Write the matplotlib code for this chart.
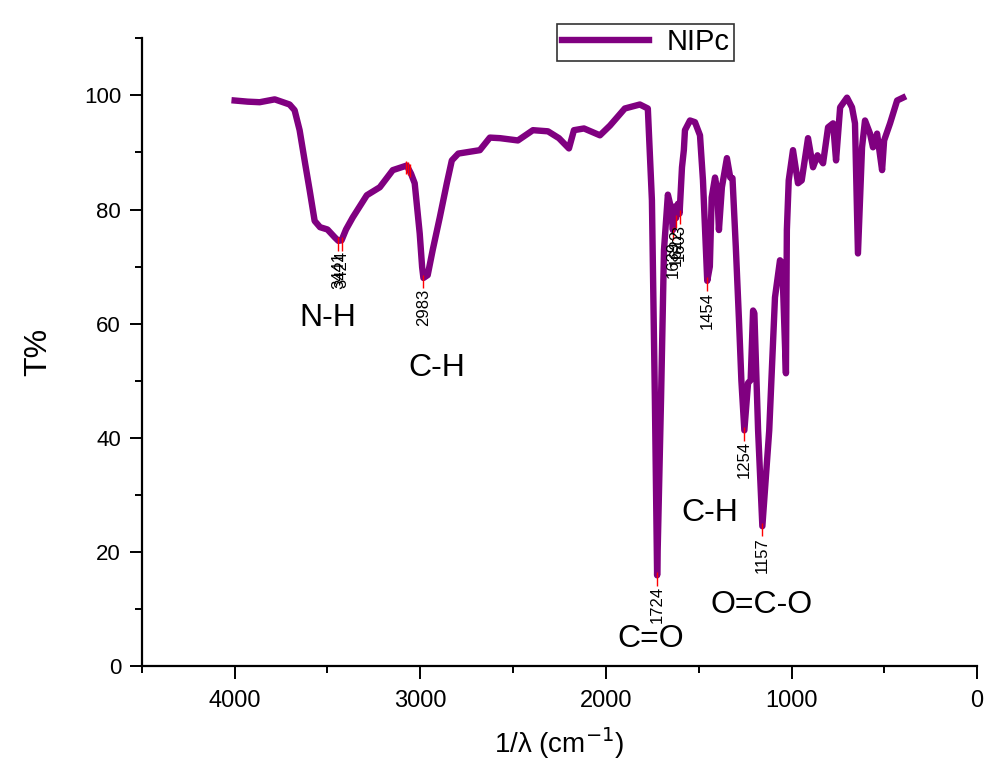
import matplotlib
matplotlib.use("Agg")
import matplotlib.pyplot as plt
from matplotlib.ticker import MultipleLocator

plt.rcParams["font.family"] = ["Liberation Sans", "DejaVu Sans"]

PURPLE = "#800080"

# FTIR spectrum of NIPc (wavenumber cm-1, transmittance %)
wavenumber = [4000, 3930, 3865, 3784, 3704, 3677, 3650, 3620, 3596, 3569,
              3540, 3500, 3460, 3441, 3424, 3400, 3364, 3288, 3218, 3148,
              3073, 3050, 3030, 3003, 2990, 2983, 2960, 2933, 2895, 2857,
              2830, 2795, 2679, 2625, 2570, 2474, 2393, 2312, 2253, 2199,
              2172, 2118, 2032, 1978, 1898, 1817, 1774, 1752, 1736, 1724,
              1703, 1687, 1666, 1650, 1639, 1630, 1622, 1612, 1603, 1590,
              1580, 1574, 1547, 1520, 1493, 1477, 1461, 1454, 1440, 1430,
              1412, 1400, 1391, 1375, 1348, 1330, 1318, 1300, 1283, 1270,
              1254, 1234, 1220, 1207, 1200, 1180, 1157, 1120, 1089, 1062,
              1050, 1030, 1025, 1015, 992, 965, 945, 911, 884, 860,
              830, 803, 776, 760, 738, 701, 674, 658, 642, 620,
              604, 577, 561, 539, 512, 501, 469, 431, 399]
transmittance = [99.1, 98.9, 98.8, 99.3, 98.4, 97.4, 93.9, 88.0, 83.4, 78.0,
                 76.9, 76.5, 75.1, 74.5, 74.6, 76.5, 78.6, 82.5, 83.9, 86.9,
                 87.7, 86.3, 84.6, 75.8, 69.9, 68.0, 68.5, 72.9, 78.6, 84.6,
                 88.6, 89.8, 90.4, 92.6, 92.5, 92.1, 93.9, 93.7, 92.5, 90.7,
                 93.9, 94.2, 93.0, 94.7, 97.7, 98.4, 97.7, 81.6, 46.6, 15.9,
                 46.6, 72.9, 82.6, 80.4, 76.4, 80.5, 78.5, 81.0, 79.3, 87.4,
                 90.4, 93.9, 95.6, 95.3, 93.0, 85.1, 72.9, 67.5, 70.0, 82.1,
                 85.6, 83.4, 76.4, 83.9, 89.0, 85.6, 85.5, 73.4, 60.6, 50.0,
                 41.3, 49.6, 50.1, 62.3, 61.8, 41.3, 24.5, 41.3, 64.6, 71.1,
                 70.6, 51.3, 76.4, 85.1, 90.4, 84.6, 85.1, 92.5, 87.4, 89.5,
                 88.1, 94.4, 95.1, 88.6, 97.9, 99.6, 97.9, 95.1, 72.3, 90.9,
                 95.6, 93.3, 90.9, 93.3, 86.9, 92.1, 95.1, 99.1, 99.6]

# labelled peaks
peak_wn = [3441, 3424, 2983, 1724, 1639, 1622, 1603, 1454, 1254, 1157]
peak_t = [74.5, 74.6, 68.0, 15.9, 76.4, 78.5, 79.3, 67.5, 41.3, 24.5]
# unlabelled picked peaks
mark_wn = [3075, 3065, 3055]
mark_t = [87.7, 87.6, 87.2]

# band assignments
band_text = ["N-H", "C-H", "C=O", "C-H", "O=C-O"]
band_x = [3499, 2911, 1757, 1439, 1159]
band_y = [60.9, 52.2, 4.7, 26.8, 10.7]

fig = plt.figure(figsize=(9.85, 7.66), dpi=100)
ax = fig.add_axes([0.144, 0.1305, 0.848, 0.8195])

ax.plot(wavenumber, transmittance, color=PURPLE, linewidth=4.6,
        solid_joinstyle="round", label="NIPc")

ax.vlines(peak_wn, [t - 1.8 for t in peak_t], [t + 0.6 for t in peak_t],
          color="red", linewidth=1.0, zorder=3)
ax.vlines(mark_wn, [t - 1.5 for t in mark_t], [t + 0.8 for t in mark_t],
          color="red", linewidth=1.0, zorder=3)
for w, t in zip(peak_wn, peak_t):
    ax.text(w, t - 1.9, str(w), rotation=90, ha="center", va="top",
            fontsize=12, color="black")

for s, x, y in zip(band_text, band_x, band_y):
    ax.text(x, y, s, ha="center", va="center", fontsize=23)

ax.set_xlim(4500, 0)
ax.set_ylim(0, 110)
ax.xaxis.set_major_locator(MultipleLocator(1000))
ax.xaxis.set_minor_locator(MultipleLocator(500))
ax.yaxis.set_major_locator(MultipleLocator(20))
ax.yaxis.set_minor_locator(MultipleLocator(10))
ax.set_yticks([0, 20, 40, 60, 80, 100])

for side in ("top", "right"):
    ax.spines[side].set_visible(False)
for side in ("left", "bottom"):
    ax.spines[side].set_linewidth(1.6)
ax.tick_params(which="major", direction="out", length=9, width=1.4, pad=6)
ax.tick_params(axis="x", labelsize=17, pad=8)
ax.tick_params(axis="y", labelsize=16)
ax.tick_params(which="minor", direction="out", length=5, width=1.4)

ax.set_ylabel("T%", fontsize=23, labelpad=22)
ax.set_xlabel("1/λ (cm$^{-1}$)", fontsize=20, labelpad=10)

leg = fig.legend(loc="upper left", bbox_to_anchor=(0.551, 0.988), fontsize=21,
                 frameon=True, fancybox=False, edgecolor="black",
                 handlelength=3.0, borderpad=0.15, handletextpad=0.6)
leg.get_frame().set_linewidth(1.2)

fig.savefig("out.png", dpi=100, facecolor="white")
